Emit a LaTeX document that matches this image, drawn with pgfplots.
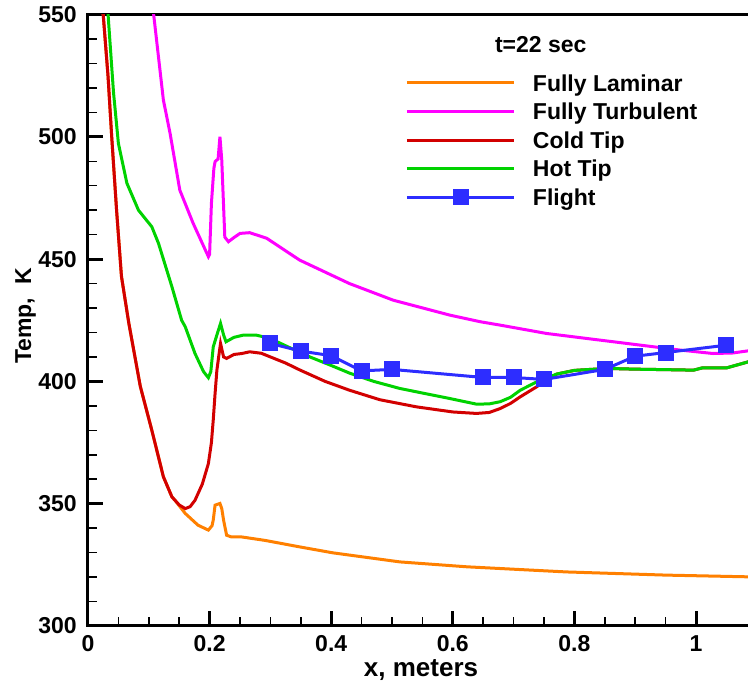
\documentclass[border=0pt]{standalone}
\usepackage{fontspec}
\setmainfont{Liberation Sans}
\usepackage{pgfplots}
\pgfplotsset{compat=1.18}
\definecolor{cLam}{RGB}{255,128,0}
\definecolor{cTurb}{RGB}{255,0,255}
\definecolor{cCold}{RGB}{210,0,0}
\definecolor{cHot}{RGB}{0,210,0}
\definecolor{cFl}{RGB}{45,45,255}
\newcommand\ff{\bfseries\fontsize{23}{27}\selectfont}
\newcommand\fx{\bfseries\fontsize{26}{30}\selectfont}
\begin{document}
\begin{tikzpicture}
\begin{axis}[
  name=ax,
  scale only axis,
  width=668.8pt, height=611.5pt,
  xmin=0, xmax=1.1, ymin=300, ymax=550,
  xtick={0,0.2,0.4,0.6,0.8,1},
  ytick={300,350,400,450,500,550},
  minor x tick num=3,
  minor y tick num=4,
  xtick pos=left, ytick pos=left,
  tick align=inside,
  major tick length=15pt, minor tick length=9pt,
  every major tick/.append style={line width=3pt, black},
  every minor tick/.append style={line width=1.5pt, black},
  axis line style={line width=3pt},
  /pgf/number format/assume math mode=true,
  tick label style={font=\ff},
  xticklabel style={inner sep=0pt, yshift=-9pt},
  yticklabel style={inner sep=0pt, xshift=-11pt},
  xlabel={x, meters},
  ylabel={Temp,\ \ K},
  ylabel style={font=\ff},
  xlabel style={font=\fx, at={(axis description cs:0.498,-0.0834)}, anchor=base},
  ylabel style={at={(axis description cs:-0.0852,0.507)}, anchor=base, rotate=0},
  legend cell align=left,
  legend image code/.code={\draw[mark repeat=2,mark phase=2,#1] plot coordinates {(0pt,0pt) (54pt,0pt) (107pt,0pt)};},
  legend style={at={(0.4747,0.9114)}, anchor=north west, draw=none, fill=none,
    inner sep=0pt, outer sep=0pt, row sep=0pt, column sep=17.5pt, font=\ff,
    nodes={inner sep=0pt, text height=22.5pt, text depth=6.1pt}},
]
% Fully Laminar
\addplot[cLam, line width=3pt] coordinates {
(0.018,575) (0.025,550) (0.033,524.6) (0.039,500) (0.047,470) (0.055,443) (0.067,424)
(0.086,398) (0.105,380) (0.124,361) (0.138,352.8) (0.143,351.4) (0.160,346) (0.181,341.2)
(0.198,339.2) (0.204,341) (0.206,343.3) (0.209,349.4) (0.217,350.1) (0.220,348) (0.223,343.3)
(0.228,337.1) (0.236,336.4) (0.253,336.4) (0.291,335) (0.349,332.3) (0.403,329.9)
(0.513,326.2) (0.623,324.2) (0.787,322.1) (0.951,320.8) (1.086,320.1) (1.1,320)
};
\addlegendentry{Fully Laminar}
% Fully Turbulent
\addplot[cTurb, line width=3pt] coordinates {
(0.098,572) (0.108,550) (0.124,515) (0.135,501.4) (0.151,478.2) (0.173,464.6) (0.198,451)
(0.200,452) (0.203,472.8) (0.207,487) (0.209,489.8) (0.214,491) (0.217,500) (0.220,490.5)
(0.225,459) (0.231,457.1) (0.240,458.8) (0.250,460.5) (0.266,460.8) (0.294,458.5)
(0.348,449.6) (0.430,440) (0.502,433.2) (0.595,427.1) (0.645,424.4) (0.678,423)
(0.754,419.6) (0.864,416.2) (0.974,412.8) (1.028,411.4) (1.06,411.6) (1.086,412.5) (1.1,413)
};
\addlegendentry{Fully Turbulent}
% Cold Tip
\addplot[cCold, line width=3pt] coordinates {
(0.018,575) (0.025,550) (0.033,524.6) (0.039,500) (0.047,470) (0.055,443) (0.067,424)
(0.086,398) (0.105,380) (0.124,361) (0.138,352.8) (0.150,349.5) (0.160,348) (0.168,348.8)
(0.176,351.4) (0.188,358) (0.198,366.4) (0.203,375) (0.206,384.2) (0.209,395) (0.212,404.6)
(0.216,412) (0.218,415.5) (0.223,410) (0.228,409.4) (0.240,411) (0.253,411.4) (0.266,412.1)
(0.285,411.5) (0.300,410) (0.325,407.5) (0.349,404.6) (0.390,400) (0.430,396.4) (0.480,392.5)
(0.540,389.6) (0.600,387.5) (0.639,386.9) (0.660,387.3) (0.678,388.9) (0.695,391)
(0.711,393.7) (0.738,397.8) (0.755,400.5) (0.771,403) (0.80,404.5) (0.853,405.3)
(0.90,405) (0.95,404.8) (0.996,404.6) (1.010,405.5) (1.05,405.5) (1.086,408) (1.1,409)
};
\addlegendentry{Cold Tip}
% Hot Tip
\addplot[cHot, line width=3pt] coordinates {
(0.027,572) (0.033,550) (0.042,518) (0.050,497.3) (0.064,481) (0.083,470) (0.105,463.2)
(0.116,456.4) (0.138,438.7) (0.154,425) (0.160,422.3) (0.176,411.4) (0.190,404) (0.198,401.5)
(0.202,404) (0.206,414.1) (0.212,419) (0.218,423.7) (0.223,419) (0.227,416.2) (0.240,418)
(0.255,418.9) (0.277,418.9) (0.299,417.6) (0.330,414) (0.365,410) (0.400,406.5)
(0.431,403.3) (0.470,400) (0.513,397.1) (0.555,395) (0.595,393) (0.639,390.7) (0.660,390.8)
(0.678,391.7) (0.695,393.5) (0.711,396.4) (0.738,399.8) (0.771,403) (0.80,404.5)
(0.853,405.3) (0.90,405) (0.95,404.8) (0.996,404.6) (1.010,405.5) (1.05,405.5) (1.086,408) (1.1,409)
};
\addlegendentry{Hot Tip}
% Flight
\addplot[cFl, line width=3pt, mark=square*, mark size=7.5pt, mark options={solid, fill=cFl, draw=cFl, line width=0pt}] coordinates {
(0.30,415.5) (0.35,412.4) (0.40,410.5) (0.45,404.3) (0.50,404.9) (0.65,401.6)
(0.70,401.6) (0.75,400.8) (0.85,404.9) (0.90,410.3) (0.95,411.8) (1.05,414.8)
};
\addlegendentry{Flight}
\node[font=\ff, anchor=center] at (rel axis cs:0.677,0.950) {t=22 sec};
\end{axis}
\pgfresetboundingbox
\path[use as bounding box] ([shift={(-88pt,-56pt)}]ax.south west) rectangle ([shift={(660pt,626pt)}]ax.south west);
\end{tikzpicture}
\end{document}
